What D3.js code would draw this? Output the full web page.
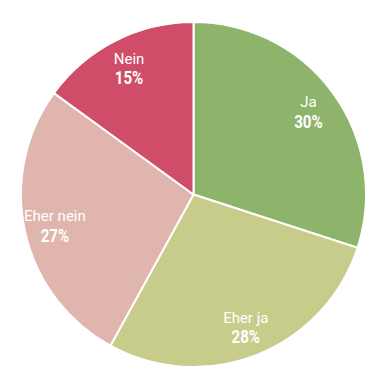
<!DOCTYPE html>
<html>
<head>
<meta charset="utf-8">
<script src="https://cdn.jsdelivr.net/npm/d3@7"></script>
<style>
  body { margin: 0; background: #fff; }
  text { font-family: "Roboto", "Noto Sans", sans-serif; fill: #fff; }
</style>
</head>
<body>
<svg id="chart" width="388" height="388"></svg>
<script>
const labels = ["Ja", "Eher ja", "Eher nein", "Nein"];
const values = [30, 28, 27, 15];
const colors = ["#8db46a", "#c8cc8a", "#dfb5ae", "#d04d69"];

const width = 388, height = 388;
const cx = 193.5, cy = 194.5, radius = 172.5;

const svg = d3.select("#chart");
const g = svg.append("g").attr("transform", `translate(${cx},${cy})`);

const data = labels.map((l, i) => ({ label: l, value: values[i], color: colors[i] }));

const pie = d3.pie().value(d => d.value).sort(null);
const arc = d3.arc().innerRadius(0).outerRadius(radius);
const labelArc = d3.arc().innerRadius(142).outerRadius(142);

const arcs = pie(data);

g.selectAll("path")
  .data(arcs)
  .enter()
  .append("path")
  .attr("d", arc)
  .attr("fill", d => d.data.color)
  .attr("stroke", "#fff")
  .attr("stroke-width", 2);

const lbl = g.selectAll("g.lbl")
  .data(arcs)
  .enter()
  .append("g")
  .attr("class", "lbl")
  .attr("transform", d => `translate(${labelArc.centroid(d)})`);

lbl.append("text")
  .attr("text-anchor", "middle")
  .attr("y", -4)
  .style("font-size", "15px")
  .text(d => d.data.label);

// percentages in a narrower bold face
lbl.append("text")
  .attr("text-anchor", "middle")
  .attr("transform", "translate(0,16.5) scale(0.84,1)")
  .style("font-size", "18px")
  .style("font-weight", "bold")
  .text(d => d.data.value + "%");
</script>
</body>
</html>
